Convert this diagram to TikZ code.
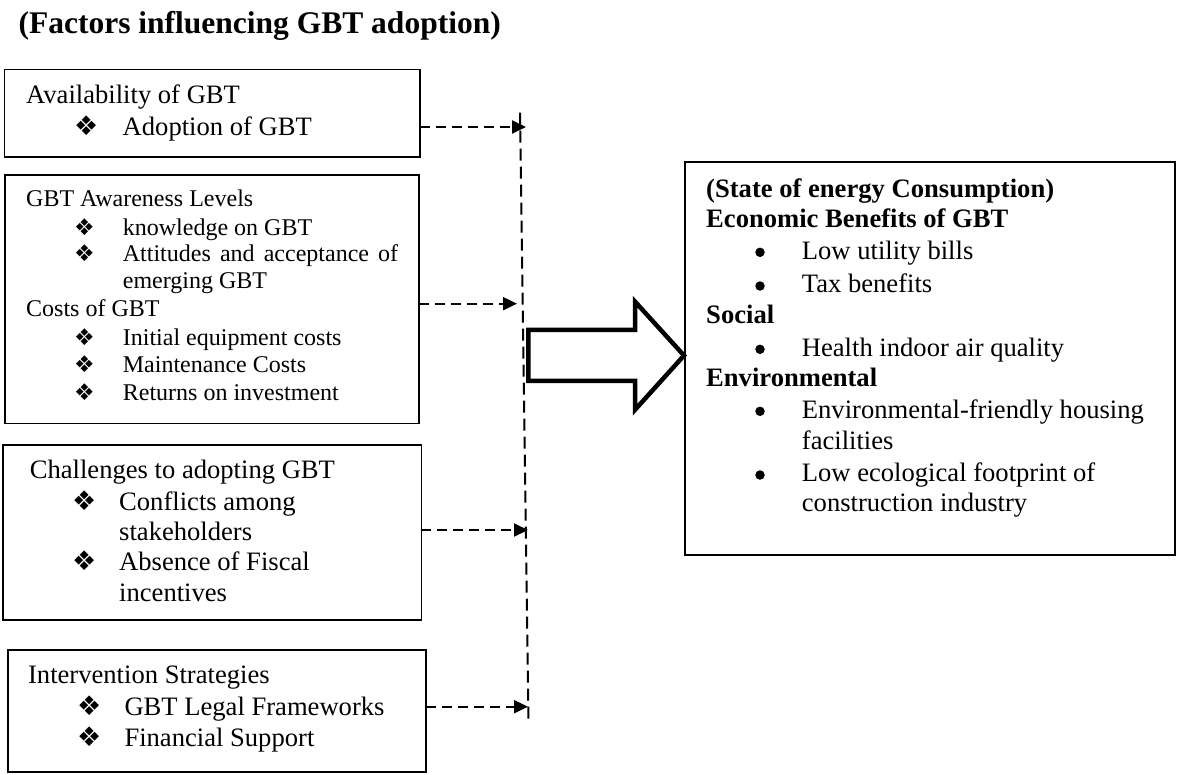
\documentclass[tikz,border=0pt]{standalone}
\usepackage{fontspec}
\setmainfont{Liberation Serif}
\newfontfamily\dingfont{DejaVu Sans}
\usetikzlibrary{arrows.meta}
\begin{document}
\begin{tikzpicture}[x=1pt,y=-1pt,
  box/.style={draw, line width=1.6pt, inner sep=0, outer sep=0, anchor=north west},
  body/.style={anchor=base west, inner sep=0, font=\fontsize{26.6}{30}\selectfont},
  small/.style={anchor=base west, inner sep=0, font=\fontsize{24}{28}\selectfont},
  head/.style={anchor=base west, inner sep=0, font=\bfseries\fontsize{26.6}{30}\selectfont},
  titletext/.style={anchor=base west, inner sep=0, font=\bfseries\fontsize{31.5}{36}\selectfont},
  dia/.style={anchor=base west, inner sep=0, font=\dingfont\fontsize{27}{30}\selectfont},
  sdia/.style={anchor=base west, inner sep=0, font=\dingfont\fontsize{23}{26}\selectfont},
  dot/.style={circle, fill, inner sep=0, minimum size=9.5pt},
  link/.style={line width=2pt, dash pattern=on 10pt off 6pt, -{Triangle[length=14pt,width=13pt]}},
  spine/.style={line width=2pt, dash pattern=on 12pt off 6pt},
  bigarrow/.style={line width=4.5pt, line join=miter}
]
\useasboundingbox (0,0) rectangle (1177,774);

% title
\node[titletext] (title) at (18.4,33) {(Factors influencing GBT adoption)};

% boxes
\node[box, minimum width=415.4pt, minimum height=87.4pt] (b1) at (4.6,69.3) {};
\node[box, minimum width=414pt, minimum height=248.3pt] (b2) at (5,175) {};
\node[box, minimum width=418.4pt, minimum height=175pt] (b3) at (3,445) {};
\node[box, minimum width=417.7pt, minimum height=122pt] (b4) at (8,650) {};
\node[box, minimum width=490pt, minimum height=393.3pt] (rb) at (685,161.7) {};

% box 1
\node[body] (b1t) at (26,103) {Availability of GBT};
\node[dia] (b1d1) at (74,135) {❖};
\node[body] (b1i1) at (122.5,135) {Adoption of GBT};

% box 2
\node[small] (b2t) at (26,206.7) {GBT Awareness Levels};
\node[sdia] (b2d1) at (74,235) {❖};
\node[small] (b2i1) at (122.7,235) {knowledge on GBT};
\node[sdia] (b2d2) at (74,261.7) {❖};
\node[small] (b2i2) at (122.7,261.7) {\makebox[275.3pt][s]{Attitudes and acceptance of}};
\node[small] (b2i2b) at (122.7,288.3) {emerging GBT};
\node[small] (b2t2) at (26,316.7) {Costs of GBT};
\node[sdia] (b2d3) at (74,345) {❖};
\node[small] (b2i3) at (122.7,345) {Initial equipment costs};
\node[sdia] (b2d4) at (74,372.3) {❖};
\node[small] (b2i4) at (122.7,372.3) {Maintenance Costs};
\node[sdia] (b2d5) at (74,400) {❖};
\node[small] (b2i5) at (122.7,400) {Returns on investment};

% box 3
\node[body] (b3t) at (29.6,478.3) {Challenges to adopting GBT};
\node[dia] (b3d1) at (72,510) {❖};
\node[body] (b3i1) at (119,510) {Conflicts among};
\node[body] (b3i1b) at (119,540) {stakeholders};
\node[dia] (b3d2) at (72,570) {❖};
\node[body] (b3i2) at (119,570) {Absence of Fiscal};
\node[body] (b3i2b) at (119,601.7) {incentives};

% box 4
\node[body] (b4t) at (27.9,683.3) {Intervention Strategies};
\node[dia] (b4d1) at (77,715) {❖};
\node[body] (b4i1) at (124.3,715) {GBT Legal Frameworks};
\node[dia] (b4d2) at (77,746) {❖};
\node[body] (b4i2) at (124.3,746) {Financial Support};

% right box
\node[head] (r1) at (706,197) {(State of energy Consumption)};
\node[head] (r2) at (706,227) {Economic Benefits of GBT};
\node[dot] (rd1) at (760,252.3) {};
\node[body] (ri1) at (801.7,259) {Low utility bills};
\node[dot] (rd2) at (760,286) {};
\node[body] (ri2) at (801.7,292.7) {Tax benefits};
\node[head] (r3) at (706,323) {Social};
\node[dot] (rd3) at (760,349.3) {};
\node[body] (ri3) at (801.7,356) {Health indoor air quality};
\node[head] (r4) at (706,386) {Environmental};
\node[dot] (rd4) at (760,411.3) {};
\node[body] (ri4) at (801.7,418) {Environmental-friendly housing};
\node[body] (ri4b) at (801.7,449) {facilities};
\node[dot] (rd5) at (760,475) {};
\node[body] (ri5) at (801.7,481.7) {Low ecological footprint of};
\node[body] (ri5b) at (801.7,511.7) {construction industry};

% spine and links
\coordinate (vt) at (520,112.6);
\coordinate (vb) at (528.5,720);
\draw[spine] (vt) -- (vb);
\coordinate (t1) at (526,127);
\coordinate (t2) at (517,303.7);
\coordinate (t3) at (528,530);
\coordinate (t4) at (528,706.7);
\draw[link] (b1.east |- t1) -- (t1);
\draw[link] (b2.east |- t2) -- (t2);
\draw[link] (b3.east |- t3) -- (t3);
\draw[link] (b4.east |- t4) -- (t4);

% big arrow
\draw[bigarrow] (528.3,329.8) -- (635,329.8) -- (635,301.6) -- (684,355.5)
  -- (635,409.8) -- (635,380.8) -- (528.3,380.8) -- cycle;
\end{tikzpicture}
\end{document}
